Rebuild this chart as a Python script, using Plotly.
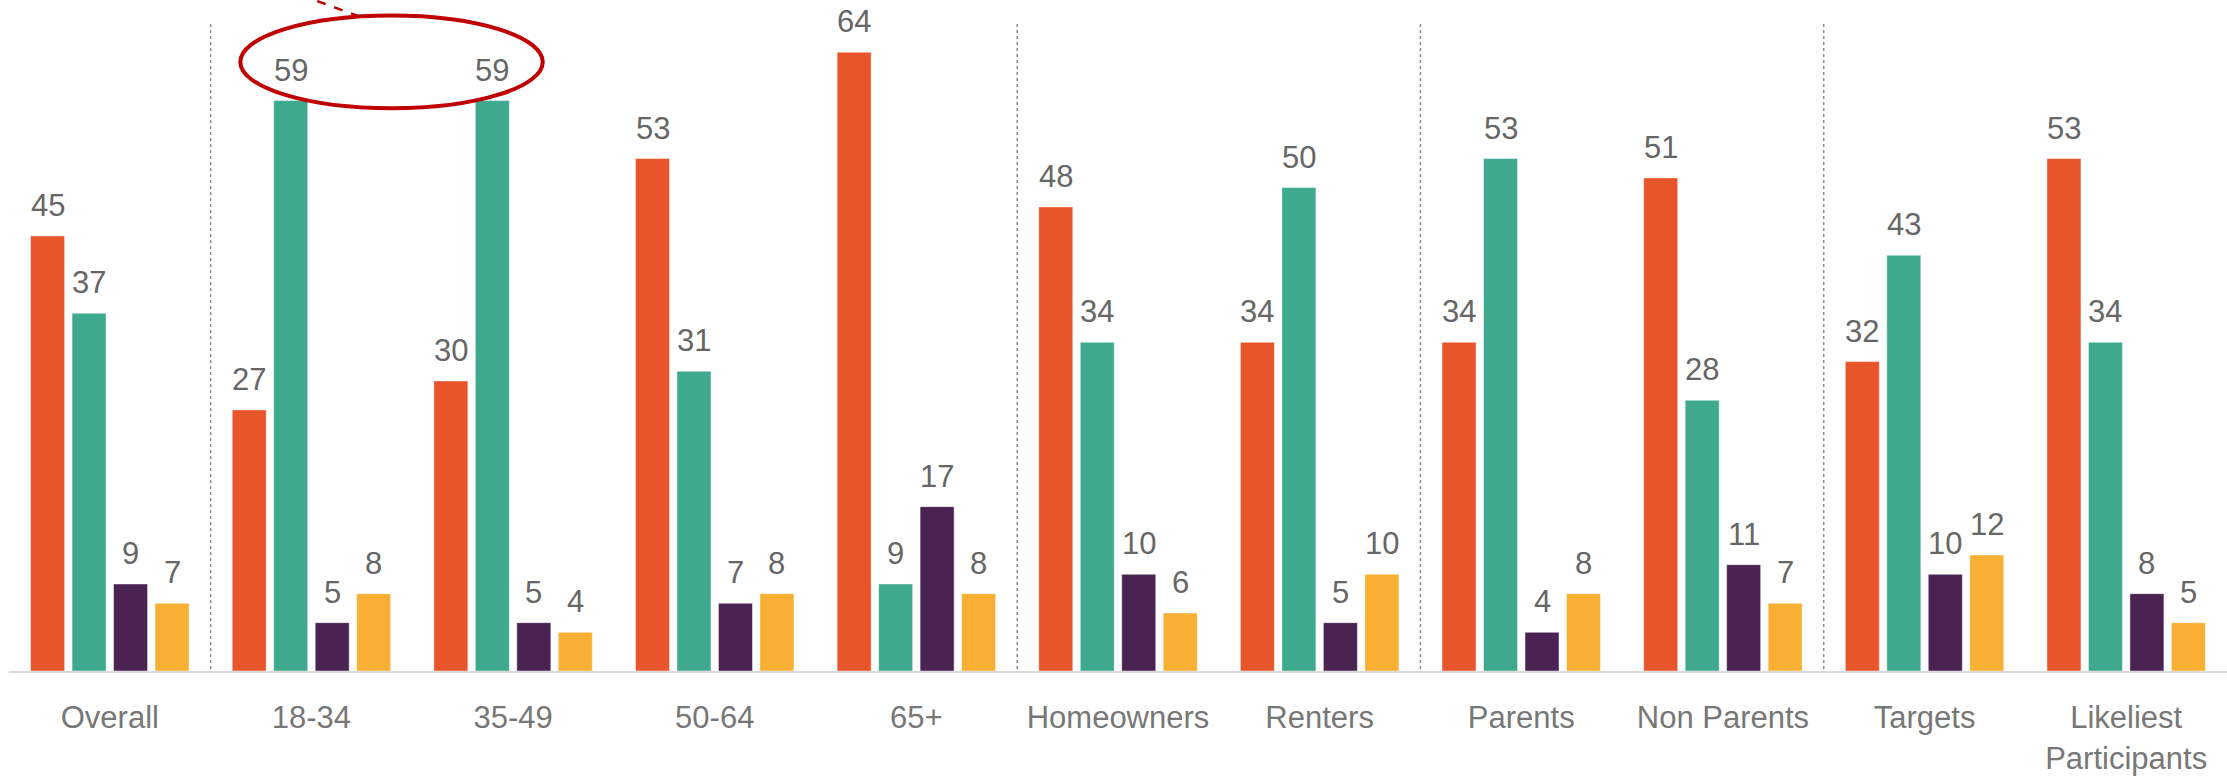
import plotly.graph_objects as go

# Segments along the x axis
categories = ["Overall", "18-34", "35-49", "50-64", "65+", "Homeowners", "Renters",
              "Parents", "Non Parents", "Targets", "Likeliest<br>Participants"]

# Four answer series, one value per segment (percent)
series_a = [45, 27, 30, 53, 64, 48, 34, 34, 51, 32, 53]
series_b = [37, 59, 59, 31, 9, 34, 50, 53, 28, 43, 34]
series_c = [9, 5, 5, 7, 17, 10, 5, 4, 11, 10, 8]
series_d = [7, 8, 4, 8, 8, 6, 10, 8, 7, 12, 5]

colors = ["#E8552B", "#3FA990", "#4B2352", "#F9AF33"]
all_series = [series_a, series_b, series_c, series_d]

# Dividers drawn between groups of segments
dividers = [0.5, 4.5, 6.5, 8.5]

BARGAP = 0.177
GROUPGAP = 0.18
slot = (1 - BARGAP) / len(all_series)

fig = go.Figure()
xs = list(range(len(categories)))
for vals, col in zip(all_series, colors):
    fig.add_trace(go.Bar(
        x=xs, y=vals, marker=dict(color=col, line=dict(color="rgba(255,255,255,0.45)", width=1)),
        showlegend=False, hoverinfo="skip",
    ))

# Value labels above each bar
annotations = []
for j, vals in enumerate(all_series):
    off = (j - (len(all_series) - 1) / 2) * slot
    for i, v in enumerate(vals):
        annotations.append(dict(
            x=i + off, y=v, xref="x", yref="y", text=str(v), showarrow=False,
            yanchor="bottom", xanchor="center", yshift=11,
            font=dict(family="Liberation Sans, Arial, sans-serif", size=31, color="#666666"),
        ))

shapes = []
for d in dividers:
    shapes.append(dict(type="line", xref="x", yref="paper", x0=d, x1=d, y0=0.003, y1=0.965,
                       line=dict(color="#8c8c8c", width=1.5, dash="dot")))

# Highlight around the two equal 18-34 / 35-49 values
hl = [(1, series_b[1]), (2, series_b[2])]
off_b = (1 - (len(all_series) - 1) / 2) * slot
cx = sum(i + off_b for i, _ in hl) / len(hl)
cy = max(v for _, v in hl) + 4.0
rx, ry = 0.75, 4.8
shapes.append(dict(type="circle", xref="x", yref="y", x0=cx - rx, x1=cx + rx, y0=cy - ry, y1=cy + ry,
                   line=dict(color="#C00000", width=4)))
# Dashed leader running off the top edge into the ellipse
shapes.append(dict(type="line", xref="x", yref="y", x0=cx - 0.62, y0=cy + ry + 3.4, x1=cx - 0.16, y1=cy + ry - 0.1,
                   line=dict(color="#C00000", width=2.5, dash="dash")))

fig.update_layout(
    width=2227, height=778,
    margin=dict(l=9, r=0, t=0, b=107),
    plot_bgcolor="white", paper_bgcolor="white",
    barmode="group", bargap=BARGAP, bargroupgap=GROUPGAP,
    annotations=annotations, shapes=shapes,
    xaxis=dict(
        tickmode="array", tickvals=xs, ticktext=categories,
        range=[-0.5, len(categories) - 0.5], automargin=False,
        showline=True, linecolor="#d9d9d9", linewidth=2,
        showgrid=False, zeroline=False, ticks="", ticklabelstandoff=18,
        tickfont=dict(family="Liberation Sans, Arial, sans-serif", size=31, color="#777777"),
    ),
    yaxis=dict(range=[0, 69.4], visible=False, showgrid=False, zeroline=False, automargin=False),
)

fig.write_html("out.html")
